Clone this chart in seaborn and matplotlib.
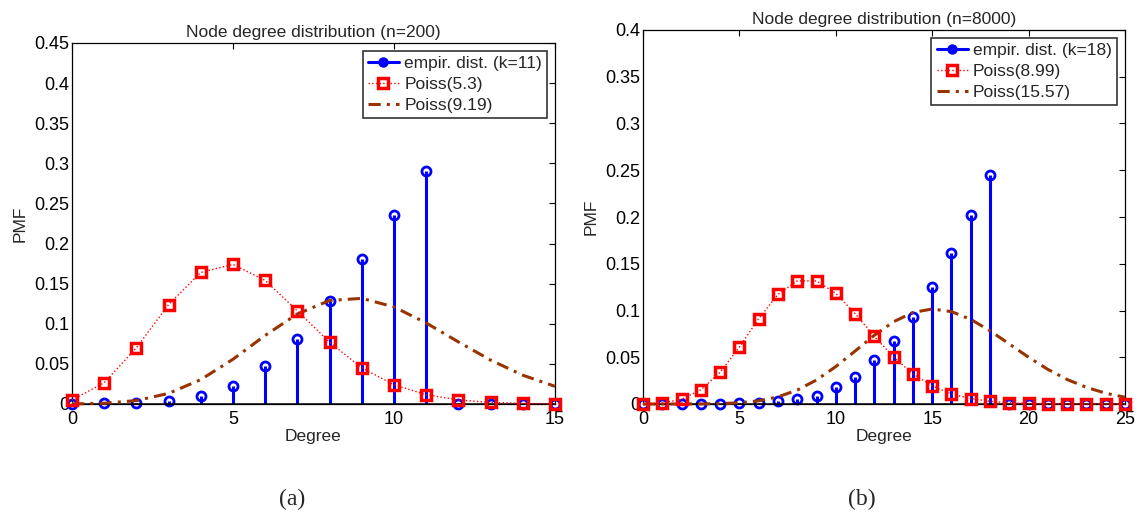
import matplotlib
matplotlib.use("Agg")
import matplotlib.pyplot as plt
import seaborn as sns
from matplotlib.lines import Line2D
from matplotlib.ticker import FormatStrFormatter, MultipleLocator

# values
deg_a = list(range(16))
empir_a = [0.0, 0.001, 0.001, 0.004, 0.010, 0.023, 0.047, 0.081,
           0.128, 0.181, 0.235, 0.290, 0.0, 0.0, 0.0, 0.0]
poiss_a_lo = [0.005, 0.0265, 0.070, 0.124, 0.164, 0.174, 0.154, 0.116,
              0.077, 0.045, 0.024, 0.0116, 0.005, 0.002, 0.0008, 0.0003]
poiss_a_hi = [0.0001, 0.0009, 0.0043, 0.0132, 0.0304, 0.0558, 0.0855, 0.1123,
              0.129, 0.1317, 0.121, 0.101, 0.0774, 0.0547, 0.0359, 0.022]

deg_b = list(range(26))
empir_b = [0.0, 0.0, 0.0, 0.0005, 0.0005, 0.001, 0.001, 0.003, 0.005,
           0.009, 0.018, 0.029, 0.047, 0.067, 0.093, 0.125, 0.162,
           0.202, 0.245, 0.0, 0.0, 0.0, 0.0, 0.0, 0.0, 0.0]
poiss_b_lo = [0.0001, 0.0011, 0.005, 0.0151, 0.0339, 0.0609, 0.0913, 0.1172,
              0.1317, 0.1316, 0.1183, 0.0967, 0.0724, 0.0501, 0.0322, 0.0193,
              0.0108, 0.0057, 0.0029, 0.0013, 0.0006, 0.0003, 0.0001, 0.0, 0.0, 0.0]
poiss_b_hi = [0.0, 0.0, 0.0, 0.0001, 0.0004, 0.0013, 0.0034, 0.0076, 0.0149,
              0.0257, 0.040, 0.0566, 0.0735, 0.088, 0.0979, 0.1016, 0.0988,
              0.0905, 0.0783, 0.0642, 0.050, 0.037, 0.0262, 0.0178, 0.0115, 0.0072]

panels = [
    dict(deg=deg_a, emp=empir_a, lo=poiss_a_lo, hi=poiss_a_hi,
         title="Node degree distribution (n=200)", ymax=0.45, xmax=15,
         labels=["empir. dist. (k=11)", "Poiss(5.3)", "Poiss(9.19)"],
         rect=[72 / 1140, 117 / 521, 483 / 1140, 361 / 521], cap="(a)", capx=292),
    dict(deg=deg_b, emp=empir_b, lo=poiss_b_lo, hi=poiss_b_hi,
         title="Node degree distribution (n=8000)", ymax=0.4, xmax=25,
         labels=["empir. dist. (k=18)", "Poiss(8.99)", "Poiss(15.57)"],
         rect=[643 / 1140, 117 / 521, 482 / 1140, 374 / 521], cap="(b)", capx=862),
]

sns.set_style("white")
plt.rcParams["font.family"] = ["Liberation Sans", "DejaVu Sans"]

blue = "#0000ff"
red = "#ff0000"
brown = "#993300"
fs = 12.5

fig = plt.figure(figsize=(11.4, 5.21), dpi=100)

for p in panels:
    ax = fig.add_axes(p["rect"])

    # stems
    ml, sl, bl = ax.stem(p["deg"], p["emp"], linefmt="-", markerfmt="o", basefmt="-")
    plt.setp(sl, color=blue, linewidth=2.2, zorder=2)
    plt.setp(ml, color=blue, markerfacecolor="none", markeredgewidth=2.0,
             markersize=6.5, zorder=2, clip_on=False)
    plt.setp(bl, color="black", linewidth=1.8, zorder=2)

    sns.lineplot(x=p["deg"], y=p["hi"], ax=ax, color=brown, linewidth=2.2,
                 dashes=False, zorder=3, clip_on=False)
    ax.lines[-1].set_dashes([4, 2, 1, 2])

    sns.lineplot(x=p["deg"], y=p["lo"], ax=ax, color=red, linewidth=1.0,
                 linestyle=":", marker="s", markersize=7, markerfacecolor="none",
                 markeredgecolor=red, markeredgewidth=2.5, zorder=4, clip_on=False)

    ax.set_xlim(0, p["xmax"])
    ax.set_ylim(0, p["ymax"])
    ax.xaxis.set_major_locator(MultipleLocator(5))
    ax.yaxis.set_major_locator(MultipleLocator(0.05))
    ax.yaxis.set_major_formatter(FormatStrFormatter("%g"))
    ax.tick_params(direction="in", top=True, right=True, length=4, width=0.8,
                   labelsize=fs + 0.5, colors="black", pad=2)
    ax.tick_params(axis="x", pad=5)
    for s in ax.spines.values():
        s.set_color("black")
        s.set_linewidth(0.9)

    ax.set_title(p["title"], fontsize=fs, pad=4)
    ax.set_xlabel("Degree", fontsize=fs, labelpad=1)
    ax.set_ylabel("PMF", fontsize=fs, labelpad=5)

    handles = [
        Line2D([], [], color=blue, linewidth=2.2, marker="o", markersize=6.5,
               markerfacecolor=blue),
        Line2D([], [], color=red, linewidth=1.0, linestyle=":", marker="s",
               markersize=7, markerfacecolor="none", markeredgewidth=2.5),
        Line2D([], [], color=brown, linewidth=2.2, dashes=[4, 2, 1, 2]),
    ]
    leg = ax.legend(handles, p["labels"], loc="upper right", fontsize=fs,
                    frameon=True, fancybox=False, edgecolor="black",
                    borderaxespad=0.45, handlelength=1.8, handletextpad=0.3,
                    labelspacing=0.33, borderpad=0.3)
    leg.get_frame().set_linewidth(1.2)

    fig.text(p["capx"] / 1140, 1 - 499 / 521, p["cap"], ha="center", va="center",
             fontsize=17, family="Liberation Serif")

fig.savefig("out.png", dpi=100)
